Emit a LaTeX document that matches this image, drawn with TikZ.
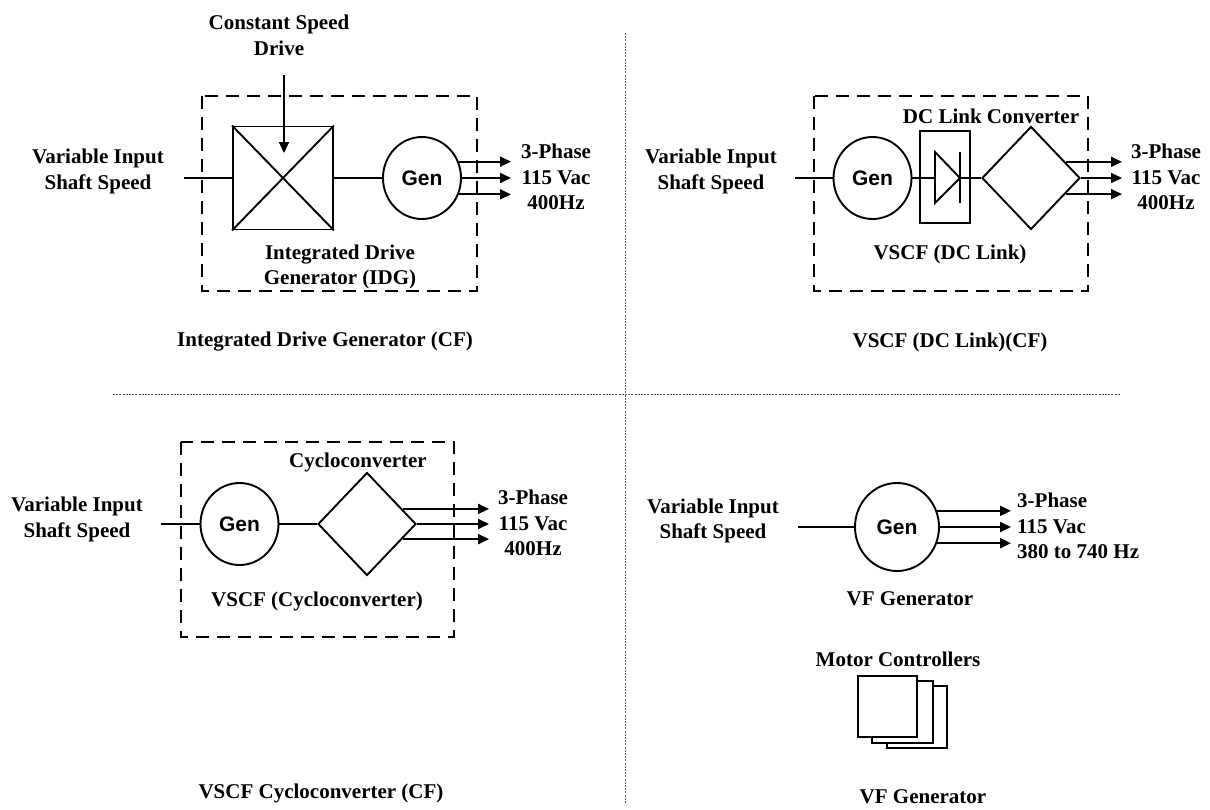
\documentclass[tikz,border=0pt]{standalone}
\usepackage{fontspec}
\setmainfont{Liberation Serif}
\newfontfamily\genfont{Liberation Sans}
\usetikzlibrary{shapes.geometric,arrows.meta,calc}
\tikzset{
  lbl/.style={font=\fontsize{21}{25.5}\selectfont\bfseries, align=center, inner sep=0pt},
  gen/.style={ellipse, draw, line width=1.9pt, inner sep=0pt, minimum width=78, minimum height=82, font=\genfont\fontsize{21}{25}\selectfont\bfseries},
  conv/.style={diamond, draw, line width=1.9pt, inner sep=0pt, minimum width=98, minimum height=103},
  wire/.style={line width=1.9pt},
  arr/.style={line width=1.9pt, -{Triangle[length=11pt,width=10pt]}},
  dbox/.style={line width=2.2pt, dash pattern=on 13pt off 8pt},
  divider/.style={line width=0.7pt, black!65, dash pattern=on 2pt off 1.2pt},
  blk/.style={draw, line width=1.9pt, inner sep=0pt, fill=white}
}
\begin{document}
\begin{tikzpicture}[x=1pt,y=-1pt]
\useasboundingbox (0,0) rectangle (1210,809);
% dividers
\coordinate (hL) at (113,394);
\coordinate (hR) at (1120,394);
\coordinate (vT) at (625,33);
\coordinate (vB) at (625,803);
\draw[divider] (hL) -- (hR);
\draw[divider] (vT) -- (vB);

% ---------------- Panel 1: IDG ----------------
\draw[dbox] (202,96) rectangle (477,291);
\node[lbl] (csd) at (279,35.5) {Constant Speed\\Drive};
\node[lbl] (vin1) at (98,171.5) {Variable Input\\Shaft Speed};
\coordinate (in1) at (184,178);
\node[draw, line width=1.9pt, inner sep=0pt, minimum width=100, minimum height=103] (cb) at (283,178) {};
\draw[wire] (cb.north west) -- (cb.south east);
\draw[wire] (cb.south west) -- (cb.north east);
\coordinate (csdtop) at (284,75);
\coordinate (csdtip) at (284,153);
\draw[arr] (csdtop) -- (csdtip);
\draw[wire] (in1) -- (cb.west);
\node[gen] (g1) at (422,178) {Gen};
\draw[wire] (cb.east) -- (g1.west);
\coordinate (a1) at (511,178);
\draw[arr] (g1.24) -- (g1.24 -| a1);
\draw[arr] (g1.east) -- (a1);
\draw[arr] (g1.-24) -- (g1.-24 -| a1);
\node[lbl] (out1) at (556,177) {3-Phase\\115 Vac\\400Hz};
\node[lbl] (idg) at (340,267) {Integrated Drive\\Generator (IDG)};
\node[lbl] (cap1) at (325,342) {Integrated Drive Generator (CF)};

% ---------------- Panel 2: VSCF DC link ----------------
\draw[dbox] (814,96) rectangle (1088,291);
\node[lbl] (vin2) at (711,171.5) {Variable Input\\Shaft Speed};
\coordinate (in2) at (795,178);
\node[gen] (g2) at (872.5,178) {Gen};
\draw[wire] (in2) -- (g2.west);
\node[draw, line width=1.9pt, inner sep=0pt, minimum width=50, minimum height=92] (db) at (945,177) {};
\coordinate (dl) at (935,178);
\coordinate (dr) at (960,178);
\draw[wire, line join=miter] (935,152) -- (935,203) -- (dr) -- cycle;
\draw[wire] (960,152) -- (960,203);
\draw[wire] (g2.east) -- (db.west |- g2.east) -- (dl);
\draw[wire] (dr) -- (db.east |- dr);
\node[conv] (d2) at (1031,178) {};
\draw[wire] (db.east |- dr) -- (d2.west);
\coordinate (a2) at (1122,178);
\draw[arr] (d2.25) -- (d2.25 -| a2);
\draw[arr] (d2.east) -- (a2);
\draw[arr] (d2.-25) -- (d2.-25 -| a2);
\node[lbl] (dcl) at (991,116) {DC Link Converter};
\node[lbl] (out2) at (1166,177) {3-Phase\\115 Vac\\400Hz};
\node[lbl] (vl2) at (950,254) {VSCF (DC Link)};
\node[lbl] (cap2) at (950,342) {VSCF (DC Link)(CF)};

% ---------------- Panel 3: VSCF cycloconverter ----------------
\draw[dbox] (181,442) rectangle (454,637);
\node[lbl] (vin3) at (77,519.5) {Variable Input\\Shaft Speed};
\coordinate (in3) at (161,524);
\node[gen] (g3) at (239.5,524) {Gen};
\draw[wire] (in3) -- (g3.west);
\node[conv] (d3) at (367,524) {};
\draw[wire] (g3.east) -- (d3.west);
\coordinate (a3) at (489,524);
\draw[arr] (d3.23) -- (d3.23 -| a3);
\draw[arr] (d3.east) -- (a3);
\draw[arr] (d3.-23) -- (d3.-23 -| a3);
\node[lbl] (cyc) at (358,462) {Cycloconverter};
\node[lbl] (out3) at (533,523) {3-Phase\\115 Vac\\400Hz};
\node[lbl] (vl3) at (317,601) {VSCF (Cycloconverter)};
\node[lbl] (cap3) at (321,793) {VSCF Cycloconverter (CF)};

% ---------------- Panel 4: VF generator ----------------
\node[lbl] (vin4) at (713,521) {Variable Input\\Shaft Speed};
\coordinate (in4) at (798,527);
\node[gen, minimum width=84, minimum height=88] (g4) at (897,527) {Gen};
\draw[wire] (in4) -- (g4.west);
\coordinate (a4) at (1011,527);
\draw[arr] (g4.22) -- (g4.22 -| a4);
\draw[arr] (g4.east) -- (a4);
\draw[arr] (g4.-22) -- (g4.-22 -| a4);
\node[lbl, align=left, anchor=west] (out4) at (1017,526) {3-Phase\\115 Vac\\380 to 740 Hz};
\node[lbl] (vf) at (910,599) {VF Generator};
\node[lbl] (mc) at (898,659) {Motor Controllers};
\node[blk, minimum width=60, minimum height=62] (mc3) at (917,717) {};
\node[blk, minimum width=61, minimum height=62] (mc2) at (902.5,712) {};
\node[blk, minimum width=59, minimum height=61] (mc1) at (887.5,706.5) {};
\node[lbl] (cap4) at (923,797) {VF Generator};
\end{tikzpicture}
\end{document}
